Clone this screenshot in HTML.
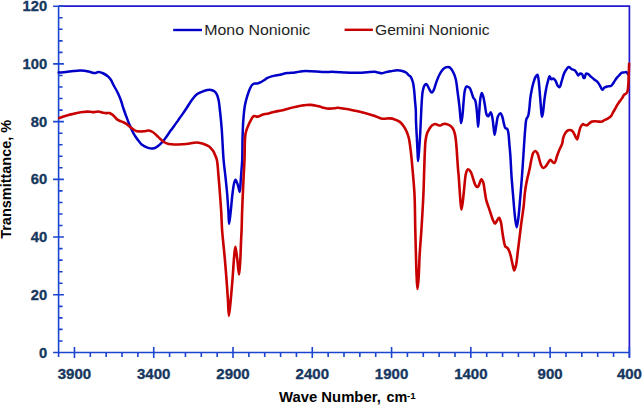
<!DOCTYPE html><html><head><meta charset="utf-8"><style>html,body{margin:0;padding:0;background:#fff;width:642px;height:406px;overflow:hidden}svg{display:block}text{font-family:"Liberation Sans",sans-serif}</style></head><body>
<svg width="642" height="406" viewBox="0 0 642 406">
<rect width="642" height="406" fill="#fff"/>
<path d="M58.6,6.2 H629.4 V357.5" fill="none" stroke="#2316d2" stroke-width="1.7"/>
<path d="M58.6,6.2 V352.5 M53.1,352.50 H63.9 M58.6,340.96 H62.6 M58.6,329.41 H62.6 M58.6,317.87 H62.6 M58.6,306.33 H62.6 M53.1,294.78 H63.9 M58.6,283.24 H62.6 M58.6,271.70 H62.6 M58.6,260.15 H62.6 M58.6,248.61 H62.6 M53.1,237.07 H63.9 M58.6,225.52 H62.6 M58.6,213.98 H62.6 M58.6,202.44 H62.6 M58.6,190.89 H62.6 M53.1,179.35 H63.9 M58.6,167.81 H62.6 M58.6,156.26 H62.6 M58.6,144.72 H62.6 M58.6,133.18 H62.6 M53.1,121.63 H63.9 M58.6,110.09 H62.6 M58.6,98.55 H62.6 M58.6,87.00 H62.6 M58.6,75.46 H62.6 M53.1,63.92 H63.9 M58.6,52.37 H62.6 M58.6,40.83 H62.6 M58.6,29.29 H62.6 M58.6,17.74 H62.6 M53.1,6.20 H63.9 M53.1,352.5 H629.4 M629.40,347.0 V357.9 M613.54,352.5 V357.1 M597.69,352.5 V357.1 M581.83,352.5 V357.1 M565.98,352.5 V357.1 M550.12,347.0 V357.9 M534.27,352.5 V357.1 M518.41,352.5 V357.1 M502.56,352.5 V357.1 M486.70,352.5 V357.1 M470.84,347.0 V357.9 M454.99,352.5 V357.1 M439.13,352.5 V357.1 M423.28,352.5 V357.1 M407.42,352.5 V357.1 M391.57,347.0 V357.9 M375.71,352.5 V357.1 M359.86,352.5 V357.1 M344.00,352.5 V357.1 M328.14,352.5 V357.1 M312.29,347.0 V357.9 M296.43,352.5 V357.1 M280.58,352.5 V357.1 M264.72,352.5 V357.1 M248.87,352.5 V357.1 M233.01,347.0 V357.9 M217.16,352.5 V357.1 M201.30,352.5 V357.1 M185.44,352.5 V357.1 M169.59,352.5 V357.1 M153.73,347.0 V357.9 M137.88,352.5 V357.1 M122.02,352.5 V357.1 M106.17,352.5 V357.1 M90.31,352.5 V357.1 M74.46,347.0 V357.9 M58.60,352.5 V357.1" fill="none" stroke="#1a45d0" stroke-width="1.6"/>
<text x="47.2" y="357.50" text-anchor="end" font-size="15.5" stroke="#17375e" stroke-width="0.35" font-weight="bold" fill="#17375e" textLength="8.2" lengthAdjust="spacingAndGlyphs">0</text>
<text x="47.2" y="299.78" text-anchor="end" font-size="15.5" stroke="#17375e" stroke-width="0.35" font-weight="bold" fill="#17375e" textLength="16.4" lengthAdjust="spacingAndGlyphs">20</text>
<text x="47.2" y="242.07" text-anchor="end" font-size="15.5" stroke="#17375e" stroke-width="0.35" font-weight="bold" fill="#17375e" textLength="16.4" lengthAdjust="spacingAndGlyphs">40</text>
<text x="47.2" y="184.35" text-anchor="end" font-size="15.5" stroke="#17375e" stroke-width="0.35" font-weight="bold" fill="#17375e" textLength="16.4" lengthAdjust="spacingAndGlyphs">60</text>
<text x="47.2" y="126.63" text-anchor="end" font-size="15.5" stroke="#17375e" stroke-width="0.35" font-weight="bold" fill="#17375e" textLength="16.4" lengthAdjust="spacingAndGlyphs">80</text>
<text x="47.2" y="68.92" text-anchor="end" font-size="15.5" stroke="#17375e" stroke-width="0.35" font-weight="bold" fill="#17375e" textLength="24.6" lengthAdjust="spacingAndGlyphs">100</text>
<text x="47.2" y="11.20" text-anchor="end" font-size="15.5" stroke="#17375e" stroke-width="0.35" font-weight="bold" fill="#17375e" textLength="24.6" lengthAdjust="spacingAndGlyphs">120</text>
<text x="629.40" y="379.3" text-anchor="middle" font-size="15.5" stroke="#17375e" stroke-width="0.35" font-weight="bold" fill="#17375e" textLength="25.0" lengthAdjust="spacingAndGlyphs">400</text>
<text x="550.12" y="379.3" text-anchor="middle" font-size="15.5" stroke="#17375e" stroke-width="0.35" font-weight="bold" fill="#17375e" textLength="25.0" lengthAdjust="spacingAndGlyphs">900</text>
<text x="470.84" y="379.3" text-anchor="middle" font-size="15.5" stroke="#17375e" stroke-width="0.35" font-weight="bold" fill="#17375e" textLength="33.4" lengthAdjust="spacingAndGlyphs">1400</text>
<text x="391.57" y="379.3" text-anchor="middle" font-size="15.5" stroke="#17375e" stroke-width="0.35" font-weight="bold" fill="#17375e" textLength="33.4" lengthAdjust="spacingAndGlyphs">1900</text>
<text x="312.29" y="379.3" text-anchor="middle" font-size="15.5" stroke="#17375e" stroke-width="0.35" font-weight="bold" fill="#17375e" textLength="33.4" lengthAdjust="spacingAndGlyphs">2400</text>
<text x="233.01" y="379.3" text-anchor="middle" font-size="15.5" stroke="#17375e" stroke-width="0.35" font-weight="bold" fill="#17375e" textLength="33.4" lengthAdjust="spacingAndGlyphs">2900</text>
<text x="153.73" y="379.3" text-anchor="middle" font-size="15.5" stroke="#17375e" stroke-width="0.35" font-weight="bold" fill="#17375e" textLength="33.4" lengthAdjust="spacingAndGlyphs">3400</text>
<text x="74.46" y="379.3" text-anchor="middle" font-size="15.5" stroke="#17375e" stroke-width="0.35" font-weight="bold" fill="#17375e" textLength="33.4" lengthAdjust="spacingAndGlyphs">3900</text>
<path d="M58.70,72.60 C59.92,72.48 63.55,72.16 66.00,71.90 C68.48,71.63 71.00,71.22 73.50,71.00 C76.00,70.78 78.50,70.50 81.00,70.60 C83.50,70.70 86.26,71.16 88.50,71.60 C90.35,71.96 92.11,72.72 93.50,72.90 C94.47,73.02 95.18,73.04 96.00,72.90 C96.85,72.75 97.52,72.03 98.50,72.00 C99.88,71.96 101.89,72.73 103.50,73.50 C105.23,74.32 107.19,75.69 108.50,76.90 C109.57,77.88 110.23,78.80 111.00,80.00 C111.92,81.43 112.55,83.17 113.50,85.00 C114.68,87.26 116.37,89.97 117.60,92.50 C118.80,94.97 119.88,97.48 120.80,100.00 C121.71,102.48 122.24,104.92 123.10,107.50 C124.03,110.30 125.15,113.36 126.20,116.20 C127.22,118.95 128.23,121.72 129.30,124.30 C130.30,126.71 131.30,129.04 132.40,131.20 C133.41,133.19 134.44,135.02 135.60,136.80 C136.74,138.55 138.08,140.34 139.30,141.80 C140.34,143.05 141.15,144.17 142.40,145.10 C143.79,146.14 145.69,147.03 147.40,147.60 C149.03,148.14 150.87,148.59 152.40,148.50 C153.74,148.43 154.91,148.02 156.10,147.40 C157.45,146.69 158.67,145.55 160.00,144.30 C161.63,142.76 163.34,140.79 165.00,138.70 C166.91,136.30 168.74,133.34 170.70,130.60 C172.74,127.75 175.39,124.18 177.00,121.90 C178.03,120.45 178.58,119.61 179.50,118.30 C180.61,116.72 181.97,114.87 183.20,113.10 C184.47,111.27 185.66,109.52 187.00,107.50 C188.56,105.14 190.25,102.09 192.00,99.80 C193.57,97.75 195.07,95.69 196.90,94.30 C198.57,93.03 200.58,92.33 202.40,91.60 C204.08,90.92 205.83,90.27 207.40,90.00 C208.74,89.77 210.02,89.68 211.20,89.90 C212.31,90.11 213.39,90.52 214.30,91.20 C215.29,91.94 216.12,93.03 216.80,94.30 C217.63,95.85 218.14,97.95 218.60,100.00 C219.11,102.31 219.27,104.75 219.60,107.50 C220.00,110.84 220.44,114.87 220.80,118.60 C221.17,122.37 221.45,125.30 221.80,130.00 C222.36,137.62 222.87,151.39 223.60,160.00 C224.16,166.53 224.90,171.46 225.50,177.20 C226.10,182.96 226.72,188.74 227.20,194.50 C227.68,200.24 228.07,206.47 228.40,211.70 C228.68,216.09 228.72,223.79 229.10,223.80 C229.48,223.81 230.19,216.09 230.70,211.70 C231.30,206.47 231.76,199.61 232.40,194.50 C232.92,190.36 233.38,185.95 234.10,183.30 C234.52,181.77 234.96,179.82 235.50,179.80 C236.11,179.78 236.97,182.42 237.60,184.10 C238.42,186.28 239.19,191.94 239.70,191.90 C240.30,191.85 240.39,184.51 240.70,180.70 C241.02,176.75 241.33,172.29 241.60,168.60 C241.82,165.49 242.05,163.59 242.20,160.00 C242.46,154.01 242.38,143.15 242.60,136.00 C242.78,130.21 242.91,125.45 243.30,120.30 C243.68,115.29 244.14,109.77 244.90,105.50 C245.49,102.16 246.24,99.55 247.10,96.70 C247.94,93.92 249.04,90.73 250.00,88.60 C250.67,87.13 251.22,85.86 252.00,85.00 C252.60,84.33 253.20,83.87 254.00,83.60 C254.95,83.29 256.26,83.74 257.40,83.50 C258.63,83.24 259.96,82.56 261.10,82.00 C262.15,81.48 263.04,80.92 264.00,80.30 C265.00,79.66 265.86,78.82 267.00,78.20 C268.31,77.49 269.74,76.92 271.50,76.40 C273.86,75.70 277.27,75.27 280.00,74.70 C282.55,74.17 284.91,73.47 287.40,73.10 C289.88,72.73 292.41,72.82 294.90,72.50 C297.41,72.18 299.80,71.42 302.40,71.20 C305.18,70.96 308.02,71.10 311.10,71.20 C314.60,71.31 318.45,71.78 322.30,71.90 C326.40,72.03 331.02,71.78 335.00,71.90 C338.53,72.01 341.92,72.35 345.00,72.50 C347.65,72.63 349.92,72.75 352.40,72.80 C354.89,72.85 357.40,72.90 359.90,72.80 C362.40,72.70 364.90,72.37 367.40,72.20 C369.90,72.03 372.95,71.64 374.90,71.80 C376.17,71.91 376.92,72.26 378.00,72.50 C379.18,72.76 380.42,73.33 381.70,73.30 C383.11,73.26 384.58,72.44 386.10,72.10 C387.71,71.74 389.34,71.49 391.10,71.20 C393.05,70.88 395.34,70.30 397.30,70.30 C399.06,70.30 400.78,70.59 402.30,71.00 C403.65,71.36 404.89,71.76 406.00,72.50 C407.17,73.27 408.24,74.90 409.10,75.60 C409.63,76.03 410.05,75.97 410.50,76.50 C411.37,77.53 412.30,80.06 412.90,82.20 C413.61,84.73 413.86,87.83 414.20,90.80 C414.57,93.95 414.73,97.37 415.00,100.60 C415.26,103.77 415.63,106.74 415.80,110.00 C415.98,113.52 415.86,116.99 416.00,121.00 C416.16,125.84 416.53,131.67 416.80,137.00 C417.07,142.33 417.35,148.58 417.60,153.00 C417.78,156.12 417.88,161.00 418.10,161.00 C418.32,161.00 418.64,156.13 418.90,153.00 C419.27,148.58 419.68,142.33 420.00,137.00 C420.32,131.67 420.57,125.84 420.80,121.00 C420.99,116.99 421.13,113.52 421.30,110.00 C421.46,106.74 421.55,103.76 421.80,100.60 C422.05,97.36 422.22,93.59 422.80,90.80 C423.25,88.65 423.83,86.32 424.60,85.20 C425.04,84.56 425.61,83.95 426.10,84.00 C426.65,84.05 427.16,85.08 427.70,85.90 C428.51,87.12 429.34,89.61 430.20,90.80 C430.79,91.61 431.43,92.66 432.00,92.60 C432.67,92.53 433.30,90.87 433.90,89.60 C434.78,87.72 435.39,84.65 436.30,82.20 C437.22,79.71 438.27,76.99 439.40,74.80 C440.36,72.93 441.34,71.09 442.50,69.80 C443.45,68.75 444.45,67.83 445.60,67.40 C446.72,66.98 448.51,66.95 449.30,67.20 C449.74,67.34 449.85,67.54 450.20,67.90 C450.90,68.62 452.08,70.09 452.90,71.60 C453.98,73.59 454.96,76.14 455.70,79.00 C456.65,82.68 456.99,87.50 457.60,92.00 C458.26,96.84 458.99,102.33 459.50,107.10 C459.96,111.38 460.24,116.39 460.60,119.30 C460.80,120.93 460.96,123.10 461.20,123.10 C461.55,123.10 462.13,118.19 462.50,115.20 C462.98,111.31 463.18,106.02 463.60,101.70 C463.99,97.71 464.17,92.94 464.90,90.20 C465.33,88.58 465.66,86.83 466.50,86.50 C467.27,86.20 468.78,87.06 469.60,87.90 C470.64,88.97 471.07,91.25 471.70,92.90 C472.30,94.48 472.64,96.32 473.30,97.60 C473.82,98.61 474.62,98.99 475.10,100.10 C475.82,101.79 476.03,104.43 476.40,107.10 C476.88,110.60 477.17,115.74 477.50,119.30 C477.76,122.07 477.97,126.70 478.20,126.70 C478.50,126.70 478.75,118.42 479.10,113.90 C479.50,108.79 479.81,101.32 480.50,97.60 C480.87,95.61 481.31,93.13 481.80,93.10 C482.22,93.07 482.77,94.92 483.20,96.30 C483.91,98.58 484.43,102.61 485.00,105.70 C485.56,108.71 485.72,112.86 486.60,114.60 C487.04,115.48 487.65,116.36 488.20,116.30 C488.99,116.22 490.02,112.11 490.70,112.20 C491.46,112.30 491.94,115.74 492.40,117.90 C492.98,120.64 493.21,124.44 493.60,127.40 C493.94,129.99 494.20,134.69 494.60,134.70 C495.02,134.71 495.57,129.47 496.10,126.60 C496.70,123.35 496.90,118.51 498.00,116.20 C498.66,114.81 499.78,113.21 500.50,113.30 C501.25,113.39 501.87,115.55 502.40,117.00 C503.07,118.85 503.35,121.62 503.90,123.60 C504.36,125.26 504.63,127.29 505.40,128.10 C505.89,128.62 506.74,128.30 507.20,128.80 C507.85,129.50 507.99,130.90 508.30,132.50 C508.84,135.30 509.05,140.37 509.40,144.30 C509.75,148.23 510.09,151.66 510.40,156.10 C510.80,161.85 511.04,169.21 511.50,175.90 C511.97,182.78 512.60,189.83 513.20,196.80 C513.80,203.79 514.37,212.20 515.10,217.80 C515.59,221.57 516.15,227.20 516.70,227.20 C517.25,227.20 517.89,221.57 518.40,217.80 C519.16,212.20 519.70,203.79 520.30,196.80 C520.90,189.83 521.51,182.39 522.00,175.90 C522.43,170.24 522.75,165.28 523.10,160.00 C523.45,154.75 523.74,149.46 524.10,144.30 C524.45,139.29 524.77,133.98 525.20,129.50 C525.56,125.75 525.63,121.56 526.40,119.20 C526.84,117.84 527.65,117.47 528.10,116.20 C528.76,114.34 528.96,111.56 529.30,108.90 C529.71,105.72 529.86,101.75 530.30,98.40 C530.71,95.30 531.22,92.31 531.80,89.50 C532.33,86.94 532.93,84.41 533.60,82.20 C534.18,80.30 534.73,78.32 535.50,77.00 C536.06,76.05 536.92,74.69 537.40,74.80 C538.00,74.94 538.19,77.41 538.50,79.20 C538.97,81.90 539.17,85.75 539.50,89.50 C539.90,93.99 540.28,99.58 540.70,104.30 C541.08,108.64 541.36,116.75 541.90,116.80 C542.19,116.83 542.59,114.79 542.90,113.20 C543.49,110.18 543.81,104.19 544.40,99.90 C544.96,95.84 545.60,91.56 546.30,88.10 C546.86,85.33 547.50,82.85 548.10,80.70 C548.57,79.01 548.91,76.27 549.50,76.20 C550.01,76.14 550.57,78.94 551.30,79.20 C551.86,79.40 552.58,78.37 553.20,78.50 C553.98,78.66 554.82,79.73 555.50,80.70 C556.39,81.98 556.83,84.67 557.70,85.80 C558.27,86.55 559.06,87.46 559.60,87.30 C560.41,87.07 560.79,84.07 561.40,82.20 C562.12,79.97 562.77,76.93 563.60,74.80 C564.27,73.08 564.91,71.62 565.80,70.30 C566.63,69.08 567.67,67.22 568.70,67.10 C569.65,66.99 570.66,68.66 571.70,69.20 C572.67,69.71 573.85,69.66 574.70,70.30 C575.61,70.99 576.26,72.37 576.90,73.30 C577.43,74.08 577.76,75.45 578.30,75.50 C578.86,75.55 579.51,73.66 580.20,73.50 C580.79,73.36 581.58,73.70 582.10,74.20 C582.83,74.90 582.99,77.49 583.60,77.90 C583.91,78.11 584.30,78.12 584.60,77.90 C585.25,77.44 585.28,73.91 586.10,73.50 C586.68,73.21 587.56,73.77 588.30,74.20 C589.26,74.76 590.21,76.03 591.20,76.90 C592.18,77.76 593.19,78.61 594.20,79.40 C595.19,80.17 596.30,80.68 597.20,81.60 C598.19,82.61 598.97,83.99 599.80,85.30 C600.68,86.68 601.41,89.58 602.30,89.70 C603.00,89.79 603.62,88.05 604.50,87.50 C605.41,86.93 606.60,86.67 607.70,86.40 C608.80,86.13 610.19,86.41 611.10,85.90 C611.97,85.41 612.46,84.39 613.10,83.50 C613.83,82.49 614.49,81.15 615.20,80.10 C615.85,79.13 616.51,78.22 617.20,77.40 C617.84,76.63 618.48,76.04 619.20,75.30 C620.03,74.45 620.97,72.98 621.90,72.60 C622.59,72.32 623.32,72.72 624.00,72.60 C624.68,72.48 625.43,71.77 626.00,71.90 C626.55,72.03 626.96,72.84 627.40,73.30 C627.82,73.74 628.40,74.38 628.60,74.60" fill="none" stroke="#0000c8" stroke-width="2.5" stroke-linejoin="round" stroke-linecap="round"/>
<path d="M59.20,118.00 C59.92,117.75 62.01,116.98 63.50,116.50 C65.10,115.98 66.83,115.45 68.50,115.00 C70.16,114.55 71.84,114.19 73.50,113.80 C75.14,113.42 76.79,113.00 78.40,112.70 C79.95,112.41 81.50,112.19 83.00,112.00 C84.43,111.82 85.88,111.62 87.20,111.60 C88.37,111.58 89.44,111.71 90.50,111.80 C91.50,111.88 92.46,112.11 93.40,112.10 C94.29,112.09 95.15,111.90 96.00,111.80 C96.82,111.70 97.59,111.46 98.40,111.50 C99.25,111.54 100.15,111.88 101.00,112.10 C101.82,112.31 102.54,112.63 103.40,112.80 C104.36,112.98 105.47,113.05 106.50,113.10 C107.53,113.15 108.72,112.86 109.60,113.10 C110.34,113.30 110.88,113.82 111.50,114.20 C112.11,114.58 112.72,114.91 113.30,115.40 C113.96,115.95 114.57,116.73 115.20,117.40 C115.83,118.07 116.35,118.82 117.10,119.40 C117.92,120.04 118.98,120.54 120.00,121.00 C121.05,121.48 122.27,121.75 123.30,122.20 C124.26,122.62 125.16,123.06 126.00,123.60 C126.82,124.13 127.57,124.81 128.30,125.40 C128.97,125.94 129.57,126.49 130.20,127.00 C130.80,127.49 131.38,127.94 132.00,128.40 C132.64,128.87 133.32,129.38 134.00,129.80 C134.66,130.21 135.26,130.64 136.00,130.90 C136.81,131.19 137.66,131.31 138.70,131.40 C140.11,131.52 142.04,131.45 143.70,131.30 C145.37,131.15 147.15,130.34 148.70,130.50 C150.13,130.64 151.47,131.27 152.70,132.00 C153.98,132.76 155.03,133.93 156.20,135.00 C157.46,136.15 158.72,137.53 160.00,138.70 C161.23,139.82 162.30,141.03 163.70,141.90 C165.18,142.82 166.91,143.56 168.70,144.00 C170.62,144.47 172.73,144.46 174.90,144.50 C177.28,144.55 179.91,144.37 182.40,144.20 C184.88,144.03 187.44,143.80 189.80,143.50 C191.99,143.22 194.01,142.50 196.10,142.50 C198.18,142.50 200.27,142.90 202.30,143.50 C204.41,144.12 206.95,145.24 208.50,146.20 C209.58,146.87 210.21,147.48 211.00,148.30 C211.88,149.22 212.78,150.29 213.50,151.50 C214.30,152.83 214.92,154.53 215.50,156.00 C216.04,157.36 216.49,158.17 216.90,160.00 C217.72,163.70 218.08,171.46 218.60,177.20 C219.12,182.96 219.57,188.74 220.00,194.50 C220.43,200.24 220.85,205.88 221.20,211.70 C221.56,217.70 221.74,224.82 222.10,230.00 C222.37,233.84 222.64,236.11 223.00,240.00 C223.51,245.46 224.32,253.13 224.90,259.70 C225.48,266.26 226.00,272.83 226.50,279.40 C227.00,285.97 227.49,292.79 227.90,299.10 C228.28,304.92 228.42,315.89 228.90,315.90 C229.38,315.91 230.20,305.18 230.80,299.10 C231.51,291.90 232.21,283.01 232.80,275.50 C233.33,268.64 233.66,261.07 234.20,255.80 C234.57,252.24 234.94,246.90 235.40,246.90 C235.95,246.90 236.70,255.27 237.30,259.70 C237.94,264.45 238.60,274.51 239.10,274.50 C239.60,274.49 239.98,264.99 240.30,259.70 C240.67,253.61 240.85,245.46 241.10,240.00 C241.28,236.11 241.45,233.83 241.60,230.00 C241.80,224.82 241.90,217.70 242.10,211.70 C242.30,205.88 242.55,200.24 242.80,194.50 C243.05,188.74 243.32,182.96 243.60,177.20 C243.88,171.46 244.25,166.21 244.50,160.00 C244.80,152.67 244.60,141.10 245.20,136.00 C245.48,133.58 245.77,132.50 246.30,130.70 C246.88,128.74 247.80,126.53 248.60,124.70 C249.30,123.10 250.10,121.62 250.80,120.30 C251.39,119.20 251.88,118.06 252.50,117.30 C252.97,116.73 253.39,116.15 254.00,116.00 C254.69,115.83 255.71,116.53 256.50,116.60 C257.20,116.67 257.80,116.68 258.50,116.50 C259.35,116.28 260.21,115.58 261.20,115.20 C262.34,114.76 263.73,114.40 265.00,114.10 C266.23,113.81 267.31,113.72 268.70,113.40 C270.53,112.98 272.90,112.19 275.00,111.70 C277.07,111.22 279.05,111.01 281.20,110.50 C283.59,109.93 286.20,109.04 288.70,108.40 C291.17,107.77 293.73,107.20 296.10,106.70 C298.28,106.24 300.59,105.80 302.40,105.50 C303.76,105.28 304.69,105.10 306.00,105.00 C307.55,104.88 309.52,104.79 311.10,104.90 C312.49,104.99 313.64,105.24 315.00,105.50 C316.52,105.79 318.26,106.20 319.80,106.60 C321.25,106.97 322.57,107.47 324.00,107.80 C325.47,108.14 326.87,108.51 328.50,108.60 C330.42,108.71 333.14,108.41 334.80,108.20 C335.89,108.06 336.37,107.72 337.50,107.70 C339.37,107.66 342.51,108.38 345.00,108.80 C347.48,109.22 349.93,109.70 352.40,110.20 C354.89,110.70 357.41,111.22 359.90,111.80 C362.41,112.38 364.91,113.00 367.40,113.70 C369.91,114.40 372.53,115.18 374.90,116.00 C377.08,116.75 379.27,117.98 381.10,118.40 C382.47,118.71 383.47,118.69 384.80,118.70 C386.34,118.72 388.14,118.29 389.80,118.40 C391.47,118.52 393.17,118.84 394.80,119.40 C396.51,119.99 398.35,120.80 399.80,121.90 C401.24,123.00 402.40,124.47 403.50,126.00 C404.68,127.64 405.73,129.55 406.60,131.50 C407.51,133.54 408.22,135.66 408.80,138.00 C409.46,140.64 409.77,143.54 410.20,146.60 C410.69,150.08 411.11,153.98 411.50,157.80 C411.91,161.78 412.20,165.23 412.60,170.00 C413.17,176.76 414.05,185.57 414.50,194.50 C415.04,205.23 414.97,217.28 415.30,230.00 C415.68,244.80 416.17,267.68 416.70,278.00 C416.95,282.93 417.18,288.90 417.50,288.90 C417.82,288.90 418.28,282.35 418.60,278.00 C419.07,271.56 419.23,262.00 419.70,254.00 C420.17,246.00 420.84,238.78 421.40,230.00 C422.08,219.32 422.92,205.24 423.40,194.50 C423.80,185.58 423.95,177.42 424.20,170.00 C424.41,163.82 424.54,158.26 424.80,153.00 C425.02,148.43 425.09,143.84 425.60,140.20 C425.99,137.44 426.43,135.07 427.20,133.00 C427.84,131.27 428.71,129.83 429.60,128.50 C430.40,127.30 431.20,126.06 432.20,125.30 C433.09,124.62 434.20,124.02 435.20,124.00 C436.17,123.98 437.19,124.85 438.10,125.10 C438.87,125.32 439.53,125.61 440.30,125.50 C441.24,125.37 442.28,124.24 443.30,124.00 C444.25,123.78 445.19,123.80 446.20,124.00 C447.38,124.23 448.80,124.77 449.90,125.50 C451.04,126.25 452.11,127.27 452.90,128.50 C453.80,129.90 454.32,131.81 454.80,133.60 C455.30,135.47 455.52,137.33 455.80,139.50 C456.14,142.16 456.36,145.32 456.60,148.40 C456.86,151.71 457.06,155.19 457.30,158.70 C457.56,162.38 457.84,167.03 458.10,170.00 C458.27,171.94 458.42,172.76 458.60,174.80 C458.91,178.36 459.26,184.72 459.60,189.50 C459.93,194.04 460.22,199.12 460.60,202.80 C460.87,205.42 461.15,209.50 461.50,209.50 C461.92,209.50 462.54,203.45 463.00,199.90 C463.57,195.51 463.97,189.75 464.50,185.10 C464.98,180.94 465.14,176.17 466.00,173.30 C466.53,171.52 467.16,169.35 468.00,169.20 C468.76,169.07 469.92,170.59 470.70,171.80 C471.82,173.55 472.43,176.81 473.30,179.20 C474.13,181.47 474.75,184.59 475.80,185.80 C476.40,186.49 477.23,187.07 477.80,186.90 C478.53,186.68 478.95,184.79 479.50,183.60 C480.12,182.25 480.63,179.26 481.30,179.20 C481.88,179.15 482.69,180.87 483.20,182.20 C484.01,184.31 484.20,188.06 484.70,191.00 C485.20,193.96 485.56,197.26 486.20,199.90 C486.73,202.09 487.46,203.90 488.10,205.80 C488.70,207.59 489.24,209.04 489.90,211.00 C490.76,213.53 491.78,217.41 492.80,219.70 C493.51,221.30 494.25,223.57 495.00,223.60 C495.69,223.63 496.39,221.48 497.10,220.50 C497.76,219.58 498.51,217.82 499.10,217.90 C499.81,217.99 500.42,220.48 500.90,222.20 C501.56,224.56 501.75,228.01 502.20,230.90 C502.65,233.78 503.05,236.80 503.60,239.50 C504.10,241.94 504.35,245.05 505.30,246.40 C505.86,247.20 506.80,247.16 507.40,247.80 C508.10,248.54 508.59,249.52 509.10,250.70 C509.80,252.31 510.35,254.56 510.90,256.70 C511.53,259.12 511.99,262.08 512.60,264.50 C513.14,266.64 513.71,270.49 514.30,270.50 C514.85,270.51 515.51,267.47 516.00,265.30 C516.78,261.85 517.22,256.18 517.80,251.60 C518.38,247.01 518.93,242.40 519.50,237.80 C520.07,233.20 520.61,228.45 521.20,224.00 C521.75,219.83 522.43,215.37 522.90,211.90 C523.25,209.28 523.51,207.64 523.80,205.00 C524.19,201.47 524.40,196.61 524.90,192.60 C525.38,188.79 526.00,185.04 526.70,181.50 C527.35,178.20 528.27,174.82 528.90,172.00 C529.40,169.74 529.78,168.00 530.20,165.90 C530.65,163.67 530.98,161.22 531.50,159.00 C531.99,156.89 532.35,154.28 533.20,152.90 C533.77,151.98 534.61,150.97 535.30,151.00 C536.04,151.03 536.90,152.35 537.50,153.40 C538.31,154.81 538.63,157.10 539.20,159.00 C539.79,160.97 540.22,163.39 541.00,165.00 C541.60,166.23 542.27,167.84 543.10,168.00 C543.86,168.15 544.91,167.09 545.70,166.30 C546.68,165.33 547.46,163.57 548.30,162.40 C549.02,161.40 549.67,159.74 550.40,159.70 C551.10,159.66 551.81,161.48 552.60,162.00 C553.26,162.44 554.10,163.08 554.70,162.80 C555.74,162.31 556.12,158.57 556.90,156.40 C557.71,154.14 558.59,151.66 559.50,149.50 C560.33,147.52 561.47,145.85 562.10,143.90 C562.74,141.92 562.70,139.62 563.30,137.70 C563.86,135.91 564.55,134.01 565.50,132.70 C566.29,131.62 567.29,130.59 568.30,130.20 C569.17,129.87 570.28,129.88 571.10,130.20 C571.95,130.53 572.64,131.33 573.30,132.20 C574.15,133.32 574.79,135.31 575.50,136.60 C576.08,137.65 576.71,139.47 577.20,139.40 C577.88,139.30 578.25,135.33 578.80,133.30 C579.35,131.26 579.71,128.82 580.50,127.20 C581.10,125.96 581.86,124.47 582.70,124.20 C583.36,123.98 584.15,124.72 584.90,124.90 C585.65,125.08 586.49,125.51 587.20,125.30 C588.00,125.07 588.59,123.90 589.40,123.30 C590.25,122.67 591.19,121.93 592.20,121.60 C593.22,121.26 594.40,121.30 595.50,121.30 C596.60,121.30 597.74,121.55 598.80,121.60 C599.77,121.64 600.70,121.82 601.60,121.60 C602.54,121.37 603.34,120.67 604.30,120.20 C605.36,119.67 606.61,119.26 607.70,118.60 C608.85,117.91 610.09,117.14 611.00,116.10 C611.94,115.02 612.47,113.50 613.20,112.20 C613.93,110.90 614.67,109.60 615.40,108.30 C616.13,107.00 616.83,105.63 617.60,104.40 C618.33,103.24 619.15,102.14 619.90,101.10 C620.58,100.15 621.25,99.37 621.90,98.40 C622.61,97.35 623.21,95.83 624.00,95.00 C624.61,94.35 625.43,94.17 626.00,93.60 C626.57,93.03 627.04,92.52 627.40,91.60 C628.00,90.05 628.09,87.26 628.30,84.80 C628.55,81.90 628.57,78.62 628.70,75.30 C628.84,71.65 629.03,65.72 629.10,63.80" fill="none" stroke="#c80000" stroke-width="2.6" stroke-linejoin="round" stroke-linecap="round"/>
<line x1="173.2" y1="30" x2="202" y2="30" stroke="#0000c8" stroke-width="2.4"/>
<text x="204.3" y="34.5" font-size="14.4" fill="#1e1e1e" textLength="106" lengthAdjust="spacingAndGlyphs">Mono Nonionic</text>
<line x1="344.6" y1="29.8" x2="372.9" y2="29.8" stroke="#c80000" stroke-width="2.4"/>
<text x="375.0" y="34.5" font-size="14.4" fill="#1e1e1e" textLength="114.5" lengthAdjust="spacingAndGlyphs">Gemini Nonionic</text>
<text x="279.0" y="402.3" font-size="14.4" font-weight="bold" fill="#000" textLength="101.8" lengthAdjust="spacingAndGlyphs">Wave Number,</text>
<text x="386.6" y="402.3" font-size="14.4" font-weight="bold" fill="#000" textLength="20.8" lengthAdjust="spacingAndGlyphs">cm</text>
<text x="406.9" y="398.9" font-size="9.5" font-weight="bold" fill="#000" textLength="8.7" lengthAdjust="spacingAndGlyphs">-1</text>
<text transform="translate(11.3,238.8) rotate(-90)" x="0" y="0" font-size="14.4" font-weight="bold" fill="#000" textLength="119" lengthAdjust="spacingAndGlyphs">Transmittance, %</text>
</svg></body></html>
